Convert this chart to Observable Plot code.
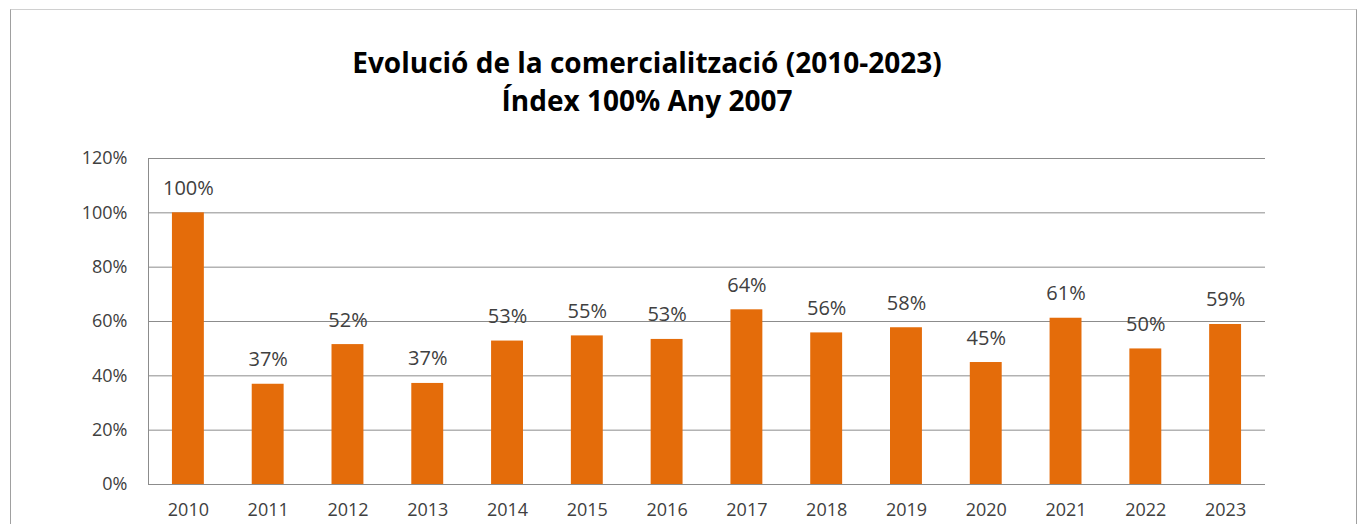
<!DOCTYPE html>
<html>
<head>
<meta charset="utf-8">
<script src="https://cdn.jsdelivr.net/npm/d3@7"></script>
<script src="https://cdn.jsdelivr.net/npm/@observablehq/plot@0.6"></script>
<style>
  html, body { margin: 0; padding: 0; background: #fff; }
  body { width: 1365px; height: 524px; overflow: hidden; position: relative; font-family: "Open Sans", sans-serif; }
  #border { position: absolute; left: 10px; top: 9px; width: 1347px; height: 600px;
            border-top: 1px solid #d0d0d0; border-left: 1px solid #a0a0a0; border-right: 1px solid #a0a0a0; box-sizing: border-box; }
  #title { position: relative; height: 130px; text-align: center; font-weight: 700; font-size: 28px; color: #000; line-height: 1; }
  #title div { position: absolute; left: 0; width: 1294px; }
  #t1 { top: 48px; }
  #t2 { top: 86px; }
</style>
</head>
<body>
<div id="border"></div>
<div id="title"><div id="t1">Evolució de la comercialització (2010-2023)</div><div id="t2">Índex 100% Any 2007</div></div>
<div id="chart"></div>
<script>
const years = ["2010","2011","2012","2013","2014","2015","2016","2017","2018","2019","2020","2021","2022","2023"];
const values = [100, 36.9, 51.5, 37.2, 52.8, 54.7, 53.4, 64.3, 55.8, 57.7, 44.9, 61.2, 49.9, 58.9];
const yTicks = [0, 20, 40, 60, 80, 100, 120];

const data = years.map((y, i) => ({year: y, value: values[i]}));

const chart = Plot.plot({
  width: 1365,
  height: 394,
  marginTop: 28,
  marginBottom: 40,
  marginLeft: 148,
  marginRight: 100,
  style: {fontFamily: "'Open Sans', sans-serif", fontSize: "18px", color: "#404040", background: "transparent"},
  x: {domain: years, paddingInner: 0.6, paddingOuter: 0.3, round: false, label: null},
  y: {domain: [0, 120], label: null},
  marks: [
    Plot.ruleY(yTicks, {stroke: "#8c8c8c", strokeWidth: 1, strokeOpacity: 1}),
    Plot.frame({anchor: "left", stroke: "#8c8c8c"}),
    Plot.barY(data, {x: "year", y: "value", fill: "#E46C0A"}),
    Plot.text(data, {x: "year", y: "value", text: d => Math.round(d.value) + "%", lineAnchor: "bottom", dy: -18, fill: "#404040", fontSize: 20}),
    Plot.axisY({ticks: yTicks, tickSize: 0, tickPadding: 21, tickFormat: d => d + "%", fontSize: 18, fill: "#404040", label: null}),
    Plot.axisX({tickSize: 0, tickPadding: 19, fontSize: 18, fill: "#404040", label: null})
  ]
});
document.getElementById("chart").appendChild(chart);
</script>
</body>
</html>
